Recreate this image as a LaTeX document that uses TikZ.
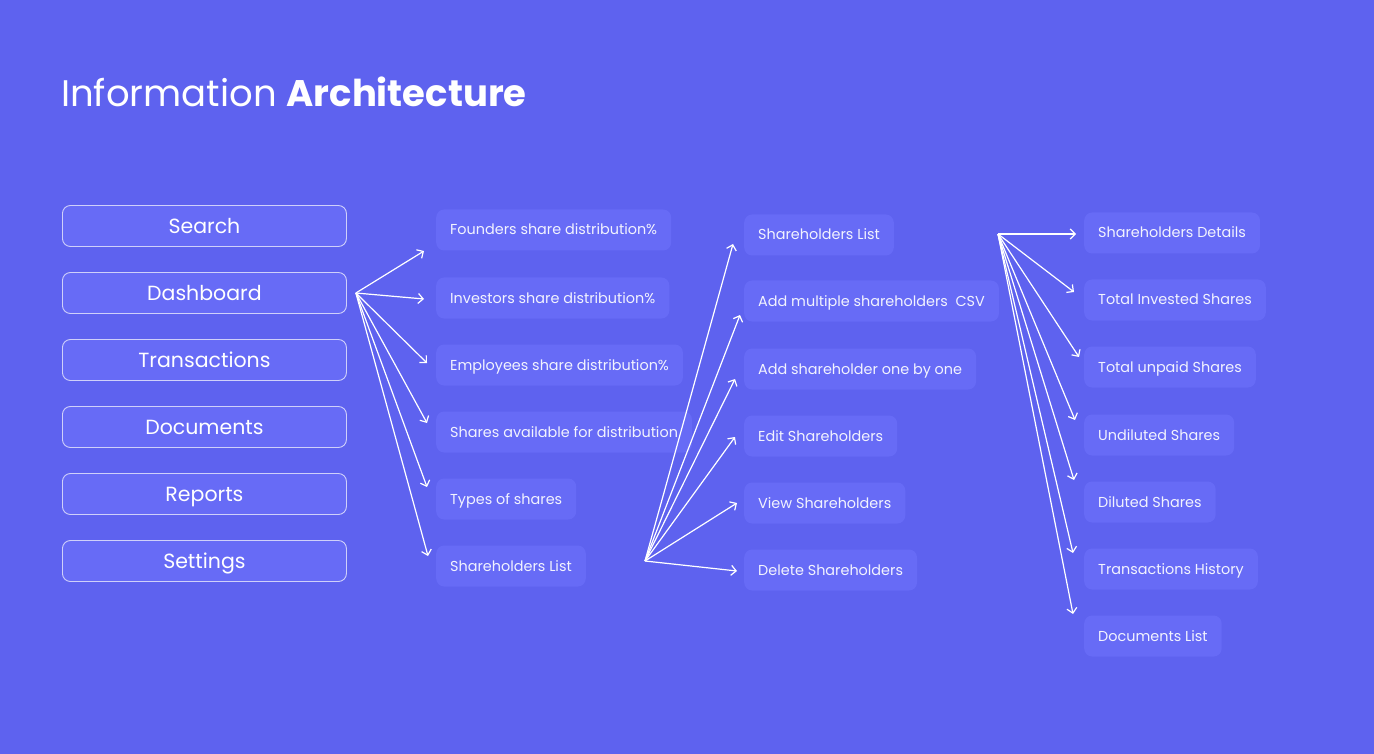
\documentclass[tikz,border=0pt]{standalone}
\usepackage{fontspec}
\setmainfont{Poppins}
\usepackage{tikz}
\usetikzlibrary{arrows.meta,calc}
\definecolor{canvas}{HTML}{5E62EF}
\definecolor{card}{HTML}{676BF6}

\tikzset{
  menubox/.style={draw=white!70!canvas, fill=card, rounded corners=8pt, line width=0.9pt,
    minimum width=284pt, minimum height=41pt, anchor=west, text=white,
    text height=18pt, text depth=3.6pt, font=\fontsize{20.5}{24}\selectfont},
  itembox/.style={fill=card, rounded corners=8pt, minimum height=41pt, anchor=west,
    inner xsep=14pt, text=white!92!canvas, text height=13pt, text depth=3pt,
    font=\fontsize{14.4}{17}\selectfont},
  link/.style={draw=white, line width=1.2pt, -{Straight Barb[length=5pt,width=10pt,line width=1.2pt]}}
}

\begin{document}
\begin{tikzpicture}[x=1pt, y=-1pt]
\fill[canvas] (0,0) rectangle (1374,754);
\useasboundingbox (0,0) rectangle (1374,754);

\node[anchor=base west, text=white, font=\fontsize{37}{44}\selectfont, inner sep=0pt] (title)
  at (61,107) {Information \textbf{Architecture}};

% main menu
\node[menubox] (search) at (62,226) {Search};
\node[menubox] (dash) at (62,293) {Dashboard};
\node[menubox] (trans) at (62,360) {Transactions};
\node[menubox] (docs) at (62,427) {Documents};
\node[menubox] (reports) at (62,494) {Reports};
\node[menubox] (settings) at (62,561) {Settings};

% dashboard
\node[itembox] (fsd) at (436,230) {Founders share distribution\%};
\node[itembox] (isd) at (436,298) {Investors share distribution\%};
\node[itembox] (esd) at (436,365) {Employees share distribution\%};
\node[itembox] (sad) at (436,432) {Shares available for distribution};
\node[itembox] (tos) at (436,499) {Types of shares};
\node[itembox] (shl) at (436,566) {Shareholders List};

% shareholders list
\node[itembox] (shl2) at (744,235) {Shareholders List};
\node[itembox] (amc) at (744,301) {Add multiple shareholders\ \ CSV};
\node[itembox] (aob) at (744,369) {Add shareholder one by one};
\node[itembox] (edt) at (744,436) {Edit Shareholders};
\node[itembox] (vw) at (744,503) {View Shareholders};
\node[itembox] (del) at (744,570) {Delete Shareholders};

% shareholder
\node[itembox] (shd) at (1084,233) {Shareholders Details};
\node[itembox] (tis) at (1084,300) {Total Invested Shares};
\node[itembox] (tus) at (1084,367) {Total unpaid Shares};
\node[itembox] (uds) at (1084,435) {Undiluted Shares};
\node[itembox] (dls) at (1084,502) {Diluted Shares};
\node[itembox] (trh) at (1084,569) {Transactions History};
\node[itembox] (dcl) at (1084,636) {Documents List};

\coordinate (dashout) at ($(dash.east)+(9,0)$);
\coordinate (shlout) at ($(shl.east)+(59,-5)$);
\coordinate (shl2out) at ($(shl2.east)+(104,-1)$);

\foreach \n/\dx/\dy in {fsd/-12/21, isd/-12/1, esd/-9/-2, sad/-9/-9, tos/-9/-12, shl/-8/-10}
  \draw[link] (dashout) -- ($(\n.west)+(\dx,\dy)$);
\foreach \n/\dx/\dy in {shl2/-11/9, amc/-4/14, aob/-9/10, edt/-9/1, vw/-7/0, del/-7/1}
  \draw[link] (shlout) -- ($(\n.west)+(\dx,\dy)$);
\foreach \n/\dx/\dy in {shd/-8/1, tis/-10/-8, tus/-5/-10, uds/-9/-15, dls/-10/-22, trh/-11/-16, dcl/-11/-22}
  \draw[link] (shl2out) -- ($(\n.west)+(\dx,\dy)$);
\end{tikzpicture}
\end{document}
